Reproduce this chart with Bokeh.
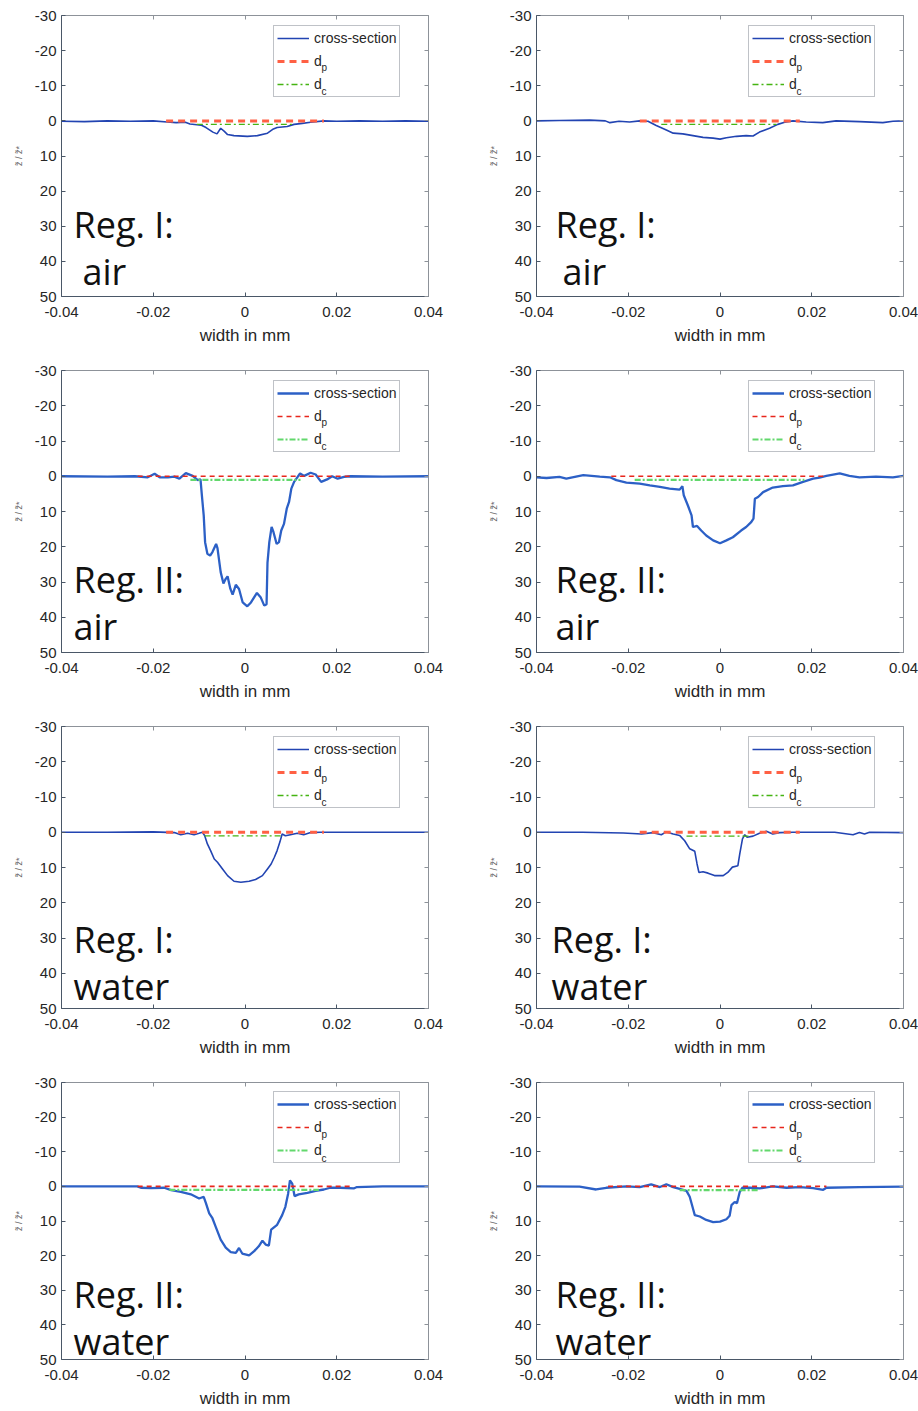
from bokeh.plotting import figure
from bokeh.models import (Range1d, LinearAxis, FixedTicker, Legend, LegendItem,
                          Label, CustomJSTickFormatter)
from bokeh.layouts import column, row
from bokeh.embed import file_html
from bokeh.resources import INLINE

# ---------------- data ----------------
X_TICKS = [-0.04, -0.02, 0.0, 0.02, 0.04]
X_TICK_LABELS = ["-0.04", "-0.02", "0", "0.02", "0.04"]
Y_TICKS = [-30, -20, -10, 0, 10, 20, 30, 40, 50]
Y_TICK_LABELS = ["-30", "-20", "-10", "0", "10", "20", "30", "40", "50"]
X_LABEL = "width in mm"
Y_LABEL = "z\u0303 / z\u0303*"
LEGEND_LABELS = ["cross-section", "d", "d"]
LEGEND_SUBS = ["p", "c"]

# Reg. I: air (left)
a_x = [-0.04, -0.035, -0.03, -0.025, -0.02, -0.017, -0.015, -0.013, -0.012, -0.0105, -0.0096,
       -0.0085, -0.007, -0.0061, -0.0053, -0.0045, -0.0038, -0.0024, 0.0005, 0.0027, 0.0049,
       0.0062, 0.007, 0.0092, 0.0107, 0.0125, 0.0143, 0.0172, 0.02, 0.025, 0.03, 0.035, 0.04]
a_y = [0.1, 0.2, 0.0, 0.1, 0.0, 0.3, 0.5, 0.4, 0.9, 1.1, 1.2, 1.9, 3.2, 3.7, 2.1, 3.0, 3.9, 4.2,
       4.4, 4.2, 3.5, 2.3, 1.9, 1.6, 1.0, 0.7, 0.4, 0.0, 0.1, 0.0, 0.1, 0.0, 0.1]
a_dp = [-0.0172, 0.0172, 0.0]
a_dc = [-0.0105, 0.0105, 1.0]

# Reg. II: air (left)
b_x = [-0.04, -0.03, -0.024, -0.0212, -0.0197, -0.0186, -0.0168, -0.0154, -0.0143, -0.0129,
       -0.0114, -0.0103, -0.0097, -0.0094, -0.009, -0.0087, -0.0082, -0.0076, -0.0071, -0.0063,
       -0.006, -0.0053, -0.0047, -0.0042, -0.0038, -0.0032, -0.0027, -0.002, -0.0013, -0.0005,
       0.0005, 0.0013, 0.0026, 0.0034, 0.0042, 0.0047, 0.0049, 0.0053, 0.0058, 0.0062, 0.0069,
       0.0074, 0.0079, 0.0085, 0.0091, 0.0096, 0.0101, 0.0107, 0.0114, 0.012, 0.0129, 0.0143,
       0.0154, 0.0166, 0.0179, 0.019, 0.0202, 0.0216, 0.023, 0.03, 0.04]
b_y = [0.0, 0.1, 0.0, 0.3, -0.7, 0.3, 0.3, 0.1, 0.7, -0.9, -0.1, 1.1, 0.9, 5.4, 11.1, 18.7, 22.0,
       22.5, 21.5, 19.2, 20.4, 27.2, 30.4, 29.1, 28.4, 31.9, 33.6, 30.8, 32.0, 35.8, 36.9, 35.8,
       33.1, 34.3, 36.7, 36.3, 24.6, 18.7, 14.4, 15.8, 19.2, 18.7, 15.4, 13.5, 9.2, 7.3, 3.5, 1.6,
       0.3, -0.8, -0.1, -1.0, -0.5, 1.6, 0.9, 0.0, 0.7, 0.2, 0.0, 0.1, 0.0]
b_dp = [-0.0234, 0.0234, 0.0]
b_dc = [-0.0119, 0.0121, 1.0]

# Reg. I: air (right)
c_x = [-0.04, -0.035, -0.0284, -0.025, -0.024, -0.022, -0.0197, -0.0175, -0.0157, -0.0139,
       -0.0117, -0.0102, -0.0081, -0.0059, -0.0037, -0.0015, 0.0, 0.0014, 0.0036, 0.0057, 0.0072,
       0.0086, 0.0108, 0.0126, 0.0141, 0.0159, 0.0188, 0.0224, 0.0253, 0.0304, 0.0355, 0.0377, 0.04]
c_y = [0.0, -0.1, -0.2, 0.0, 0.5, 0.1, 0.3, 0.0, 0.1, 1.3, 2.6, 3.5, 3.7, 4.2, 4.7, 4.9, 5.2, 4.8,
       4.4, 4.2, 4.3, 3.2, 2.1, 1.0, 0.4, 0.0, 0.3, 0.5, 0.0, 0.2, 0.5, 0.1, 0.0]
c_dp = [-0.0175, 0.0174, 0.0]
c_dc = [-0.0128, 0.0123, 1.0]

# Reg. II: air (right)
d_x = [-0.04, -0.0378, -0.035, -0.0335, -0.0298, -0.0262, -0.024, -0.0226, -0.0204, -0.0175,
       -0.0153, -0.0131, -0.011, -0.0088, -0.0082, -0.0079, -0.007, -0.0062, -0.0059, -0.005,
       -0.0041, -0.003, -0.0015, 0.0, 0.0014, 0.0028, 0.0046, 0.0057, 0.0068, 0.0073, 0.0076,
       0.0083, 0.0094, 0.0115, 0.0137, 0.0159, 0.0181, 0.0203, 0.0217, 0.0232, 0.0261, 0.0282,
       0.0304, 0.034, 0.0377, 0.04]
d_y = [0.3, 0.5, 0.2, 0.7, -0.3, 0.1, 0.3, 1.1, 1.8, 2.1, 2.6, 3.0, 3.5, 3.8, 2.8, 5.4, 8.3, 11.1,
       14.4, 14.1, 15.4, 16.8, 18.2, 19.0, 18.2, 17.3, 15.4, 14.4, 13.0, 12.0, 6.4, 5.9, 4.5, 3.2,
       2.8, 2.6, 1.6, 0.7, 0.4, -0.1, -0.8, -0.1, 0.3, 0.1, 0.3, -0.1]
d_dp = [-0.0237, 0.0232, 0.0]
d_dc = [-0.0186, 0.0184, 1.0]

# Reg. I: water (left)
e_x = [-0.04, -0.03, -0.02, -0.0154, -0.014, -0.0125, -0.0111, -0.01, -0.0093, -0.0088, -0.0082,
       -0.0075, -0.0067, -0.006, -0.0049, -0.0038, -0.0024, -0.0009, 0.0009, 0.0023, 0.0038,
       0.0049, 0.0057, 0.0064, 0.007, 0.0076, 0.0081, 0.0088, 0.0099, 0.0114, 0.0128, 0.0143,
       0.0164, 0.02, 0.03, 0.04]
e_y = [0.0, 0.0, -0.1, 0.1, 0.7, 0.3, 0.7, 0.3, 0.0, 0.9, 3.3, 5.2, 7.6, 8.5, 10.4, 12.3, 13.9,
       14.2, 13.9, 13.4, 12.3, 10.4, 9.0, 7.1, 5.2, 2.8, 0.5, 1.0, 0.7, 0.3, 0.7, 0.1, 0.0, 0.0,
       0.0, 0.0]
e_dp = [-0.0172, 0.0172, 0.0]
e_dc = [-0.0088, 0.0083, 1.0]

# Reg. I: water (right)
f_x = [-0.04, -0.03, -0.0211, -0.0171, -0.0146, -0.0128, -0.0117, -0.0102, -0.0088, -0.0077,
       -0.0066, -0.0055, -0.005, -0.0046, -0.0037, -0.0026, -0.0012, 0.0007, 0.0017, 0.0027,
       0.0039, 0.0043, 0.0049, 0.0054, 0.0059, 0.0072, 0.0086, 0.0101, 0.0115, 0.013, 0.0159,
       0.025, 0.029, 0.0304, 0.0315, 0.0326, 0.04]
f_y = [0.0, 0.0, 0.2, 0.5, 0.1, 0.7, -0.1, 0.5, 0.9, 2.4, 4.7, 5.4, 9.0, 11.4, 11.2, 11.6, 12.3,
       12.3, 11.4, 9.9, 9.5, 6.2, 1.9, 0.7, 1.4, 1.1, 0.3, -0.3, 0.5, 0.1, 0.0, 0.0, 0.7, 0.1,
       0.5, 0.0, 0.1]
f_dp = [-0.0175, 0.0174, 0.0]
f_dc = [-0.0073, 0.0065, 1.1]

# Reg. II: water (left)
g_x = [-0.04, -0.03, -0.0235, -0.0227, -0.0205, -0.0176, -0.0161, -0.014, -0.0118, -0.01, -0.009,
       -0.0085, -0.0078, -0.0071, -0.0064, -0.0053, -0.0042, -0.0031, -0.002, -0.0013, -0.0006,
       0.0009, 0.002, 0.003, 0.0038, 0.0045, 0.0052, 0.0057, 0.007, 0.0081, 0.0088, 0.0094,
       0.0098, 0.0103, 0.0108, 0.0117, 0.0136, 0.0154, 0.0172, 0.0186, 0.0208, 0.0237, 0.0244,
       0.03, 0.04]
g_y = [0.0, 0.0, 0.0, 0.4, 0.5, 0.4, 1.1, 1.6, 2.3, 3.5, 3.0, 4.9, 7.8, 9.2, 11.6, 15.4, 17.7,
       19.0, 19.2, 17.8, 19.4, 19.9, 18.7, 17.3, 15.7, 16.8, 17.1, 12.5, 11.1, 8.3, 5.9, 2.1, -1.7,
       -0.8, 2.8, 2.3, 1.9, 1.3, 0.9, 0.4, 0.4, 0.6, 0.2, 0.0, 0.0]
g_dp = [-0.0234, 0.0233, 0.0]
g_dc = [-0.0165, 0.0161, 1.0]

# Reg. II: water (right)
h_x = [-0.04, -0.0306, -0.027, -0.0248, -0.0204, -0.0175, -0.015, -0.0131, -0.0117, -0.0102,
       -0.0088, -0.0073, -0.0066, -0.006, -0.0055, -0.0044, -0.003, -0.0015, 0.0, 0.0014, 0.0021,
       0.0025, 0.0032, 0.0037, 0.0043, 0.0049, 0.0065, 0.0086, 0.0115, 0.0145, 0.0174, 0.0203,
       0.0225, 0.0232, 0.0304, 0.04]
h_y = [0.0, 0.1, 0.9, 0.4, 0.0, 0.2, -0.6, 0.2, -0.6, 0.2, 0.7, 1.3, 3.0, 5.9, 8.3, 8.7, 9.7,
       10.3, 10.2, 9.5, 8.5, 5.4, 4.5, 4.9, 1.6, 0.4, 0.4, 0.6, 0.0, 0.4, 0.2, 0.5, 1.0, 0.4, 0.2,
       0.1]
h_dp = [-0.0244, 0.0232, 0.0]
h_dc = [-0.0088, 0.0086, 1.1]

# panel annotations: (line1, line2)
a_text = ["Reg. I:", "air"]
b_text = ["Reg. II:", "air"]
c_text = ["Reg. I:", "air"]
d_text = ["Reg. II:", "air"]
e_text = ["Reg. I:", "water"]
f_text = ["Reg. I:", "water"]
g_text = ["Reg. II:", "water"]
h_text = ["Reg. II:", "water"]

# ---------------- layout / style ----------------
FRAME_W = 367
COLS = [dict(width=459, left=61, right=31), dict(width=459, left=77, right=15)]
ROWS = [dict(height=362, top=15, bottom=66), dict(height=356, top=8, bottom=66),
        dict(height=356, top=8, bottom=66), dict(height=336, top=8, bottom=50)]

STYLE_I = dict(cs_color="#2244b2", cs_width=1.6,
               dp_color="#ff6044", dp_width=3.0, dp_dash="7 5",
               dc_color="#45b412", dc_width=1.3, dc_dash="6 3 2 3")
STYLE_II = dict(cs_color="#2c60c6", cs_width=2.3,
                dp_color="#e8261c", dp_width=1.6, dp_dash="5 4",
                dc_color="#62d86c", dc_width=2.2, dc_dash="6 2 2 2")

AXIS_DARK = "#4a5767"
AXIS_LIGHT = "#8d9299"
TICK_TEXT = "#262626"
FONT = "Liberation Sans"
TEXT_SHIFT = 12  # px correction for the label text box baseline


def px_to_x(off):
    return -0.04 + off * 0.08 / FRAME_W


def px_to_y(off, frame_h):
    return -30 + off * 80.0 / frame_h


def make_panel(xs, ys, dp, dc, text, style, col, rowi, text_off, text_base):
    c = COLS[col]
    r = ROWS[rowi]
    frame_h = r["height"] - r["top"] - r["bottom"]
    p = figure(width=c["width"], height=r["height"],
               x_range=Range1d(-0.04, 0.04), y_range=Range1d(50, -30),
               output_backend="svg", toolbar_location=None,
               min_border_left=c["left"], min_border_right=c["right"],
               min_border_top=r["top"], min_border_bottom=r["bottom"],
               x_axis_label=X_LABEL, y_axis_label=Y_LABEL)
    p.grid.visible = False
    p.outline_line_color = None
    p.background_fill_color = "white"
    p.border_fill_color = "white"

    xa = p.xaxis[0]
    xa.ticker = FixedTicker(ticks=X_TICKS)
    xa.formatter = CustomJSTickFormatter(args=dict(labels=X_TICK_LABELS), code="return labels[index];")
    ya = p.yaxis[0]
    ya.ticker = FixedTicker(ticks=Y_TICKS)
    ya.formatter = CustomJSTickFormatter(args=dict(labels=Y_TICK_LABELS), code="return labels[index];")
    for ax in (xa, ya):
        ax.axis_line_color = AXIS_DARK
        ax.major_tick_line_color = AXIS_DARK
        ax.major_tick_in = 4
        ax.major_tick_out = 0
        ax.minor_tick_line_color = None
        ax.major_label_text_font = FONT
        ax.major_label_text_font_size = "15px"
        ax.major_label_text_color = TICK_TEXT
        ax.axis_label_text_font = FONT
        ax.axis_label_text_font_style = "normal"
    xa.major_label_standoff = 10
    xa.axis_label_standoff = 6
    xa.axis_label_text_font_size = "17px"
    xa.axis_label_text_color = TICK_TEXT
    ya.major_label_standoff = 5
    ya.axis_label_standoff = 8
    ya.axis_label_text_font_size = "9px"
    ya.axis_label_text_color = "#666666"

    top = LinearAxis(ticker=FixedTicker(ticks=X_TICKS),
                     formatter=CustomJSTickFormatter(code="return '';"),
                     major_label_text_font_size="0px", major_label_standoff=0,
                     major_tick_in=4, major_tick_out=0, minor_tick_line_color=None,
                     axis_line_color=AXIS_LIGHT, major_tick_line_color=AXIS_LIGHT)
    right = LinearAxis(ticker=FixedTicker(ticks=Y_TICKS),
                       formatter=CustomJSTickFormatter(code="return '';"),
                       major_label_text_font_size="0px", major_label_standoff=0,
                       major_tick_in=4, major_tick_out=0, minor_tick_line_color=None,
                       axis_line_color=AXIS_LIGHT, major_tick_line_color=AXIS_LIGHT)
    p.add_layout(top, "above")
    p.add_layout(right, "right")

    r_cs = p.line(xs, ys, line_color=style["cs_color"], line_width=style["cs_width"])
    r_dp = p.line([dp[0], dp[1]], [dp[2], dp[2]], line_color=style["dp_color"],
                  line_width=style["dp_width"], line_dash=style["dp_dash"])
    r_dc = p.line([dc[0], dc[1]], [dc[2], dc[2]], line_color=style["dc_color"],
                  line_width=style["dc_width"], line_dash=style["dc_dash"])

    leg_left, leg_top, leg_h = 212, 12, 70
    pad, lh, sp = 3, 18, 5
    legend = Legend(items=[LegendItem(label=LEGEND_LABELS[0], renderers=[r_cs]),
                           LegendItem(label=LEGEND_LABELS[1], renderers=[r_dp]),
                           LegendItem(label=LEGEND_LABELS[2], renderers=[r_dc])],
                    location=(leg_left, frame_h - leg_top - leg_h),
                    padding=pad, spacing=sp, label_height=lh, glyph_height=lh,
                    glyph_width=32, label_standoff=5, margin=0,
                    border_line_color="#7f8690", border_line_width=1,
                    background_fill_color="white", background_fill_alpha=0.0,
                    label_text_font=FONT, label_text_font_size="14px",
                    label_text_color=TICK_TEXT)
    p.add_layout(legend)

    sub_x = px_to_x(leg_left + pad + 32 + 5 + 8)
    for s, cy in zip(LEGEND_SUBS, [52, 76]):
        p.add_layout(Label(x=sub_x, y=px_to_y(cy, frame_h), text=s, text_font=FONT,
                           text_font_size="10px", text_color=TICK_TEXT,
                           text_baseline="middle", text_align="left"))

    for line_txt, xo, yb in zip(text, text_off, text_base):
        p.add_layout(Label(x=px_to_x(xo), y=px_to_y(yb - TEXT_SHIFT, frame_h), text=line_txt,
                           text_font="Open Sans", text_font_size="36px", text_color="#111111",
                           text_baseline="alphabetic", text_align="left"))
    return p


BASE_TOP = [221, 268]
BASE_BOT = [225, 272]

pa = make_panel(a_x, a_y, a_dp, a_dc, a_text, STYLE_I, 0, 0, [12, 21], BASE_TOP)
pc = make_panel(c_x, c_y, c_dp, c_dc, c_text, STYLE_I, 1, 0, [19, 26], BASE_TOP)
pb = make_panel(b_x, b_y, b_dp, b_dc, b_text, STYLE_II, 0, 1, [12, 12], BASE_TOP)
pd = make_panel(d_x, d_y, d_dp, d_dc, d_text, STYLE_II, 1, 1, [19, 19], BASE_TOP)
pe = make_panel(e_x, e_y, e_dp, e_dc, e_text, STYLE_I, 0, 2, [12, 12], BASE_BOT)
pf = make_panel(f_x, f_y, f_dp, f_dc, f_text, STYLE_I, 1, 2, [15, 15], BASE_BOT)
pg = make_panel(g_x, g_y, g_dp, g_dc, g_text, STYLE_II, 0, 3, [12, 12], BASE_BOT)
ph = make_panel(h_x, h_y, h_dp, h_dc, h_text, STYLE_II, 1, 3, [19, 19], BASE_BOT)

layout = column(row(pa, pc), row(pb, pd), row(pe, pf), row(pg, ph))

with open("out.html", "w") as fh:
    fh.write(file_html(layout, INLINE))
